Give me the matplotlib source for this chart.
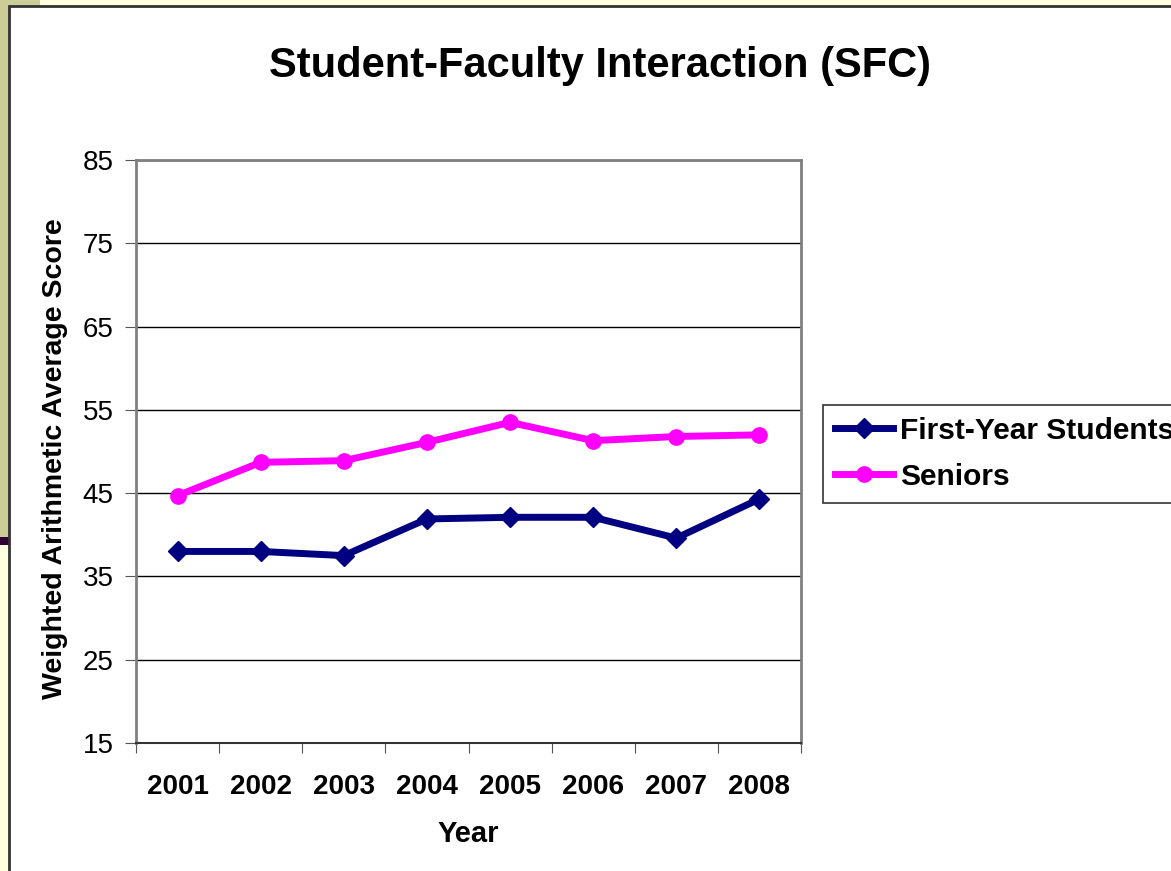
import numpy as np
import matplotlib.pyplot as plt
from matplotlib.patches import Rectangle

plt.rcParams['font.family'] = ['Liberation Sans', 'DejaVu Sans']

years = ['2001', '2002', '2003', '2004', '2005', '2006', '2007', '2008']
first_year = [38.0, 38.0, 37.5, 41.9, 42.1, 42.1, 39.6, 44.3]
seniors = [44.7, 48.7, 48.9, 51.1, 53.5, 51.3, 51.8, 52.0]
y_ticks = [15, 25, 35, 45, 55, 65, 75, 85]

W, H = 1171, 871
fig = plt.figure(figsize=(W / 100, H / 100), dpi=100)
fig.patch.set_facecolor('#FFFFE0')

# slide background pieces (figure pixel coords)
def px_rect(x0, y0, x1, y1, **kw):
    fig.patches.append(Rectangle((x0 / W, 1 - y1 / H), (x1 - x0) / W, (y1 - y0) / H,
                                 transform=fig.transFigure, zorder=-5, **kw))

px_rect(0, 0, 40, 537, facecolor='#CCCC99', edgecolor='none')
px_rect(0, 537, 40, 545, facecolor='#330033', edgecolor='none')
px_rect(9, 6, W + 5, H + 5, facecolor='white', edgecolor='#333333', linewidth=2)

ax = fig.add_axes([136 / W, 1 - 743 / H, (801 - 136) / W, (743 - 160) / H])
ax.set_facecolor('white')
x = np.arange(len(years))

ax.plot(x, first_year, color='#000080', linewidth=5, marker='D', markersize=10,
        label='First-Year Students')
ax.plot(x, seniors, color='#FF00FF', linewidth=5, marker='o', markersize=11,
        label='Seniors')

ax.set_xlim(-0.5, len(years) - 0.5)
ax.set_ylim(15, 85)
ax.set_yticks(y_ticks)
ax.set_yticklabels([str(v) for v in y_ticks], fontsize=20)
ax.yaxis.grid(True, color='black', linewidth=1)
ax.set_axisbelow(True)

# category labels at centers, tick marks at boundaries
ax.set_xticks(np.arange(len(years) + 1) - 0.5)
ax.set_xticklabels([])
ax.set_xticks(x, minor=True)
ax.set_xticklabels(years, minor=True, fontsize=20, fontweight='bold')
ax.tick_params(axis='x', which='minor', length=0, pad=22)
ax.tick_params(axis='x', which='major', length=7, color='#555555', direction='out')
ax.tick_params(axis='y', length=8, color='#555555', direction='out', pad=8)

for side in ['left', 'right', 'top']:
    ax.spines[side].set_color('#808080')
    ax.spines[side].set_linewidth(2)
ax.spines['bottom'].set_color('#333333')
ax.spines['bottom'].set_linewidth(1.5)

ax.set_xlabel('Year', fontsize=21, fontweight='bold', labelpad=15)
ax.set_ylabel('Weighted Arithmetic Average Score', fontsize=20.5, fontweight='bold')
ax.yaxis.set_label_coords(-0.103, 0.487)

fig.text(600 / W, 1 - 66 / H, 'Student-Faculty Interaction (SFC)', fontsize=30,
         fontweight='bold', ha='center', va='center')

leg = fig.legend(loc='upper left', bbox_to_anchor=(823 / W, 1 - 405 / H),
                 prop={'size': 21.5, 'weight': 'bold'}, frameon=True, fancybox=False,
                 handlelength=1.95, borderpad=0.4, labelspacing=0.6, handletextpad=0.23,
                 borderaxespad=0)
leg.get_frame().set_edgecolor('black')
leg.get_frame().set_linewidth(1.2)

fig.savefig('out.png', dpi=100, facecolor=fig.get_facecolor())
